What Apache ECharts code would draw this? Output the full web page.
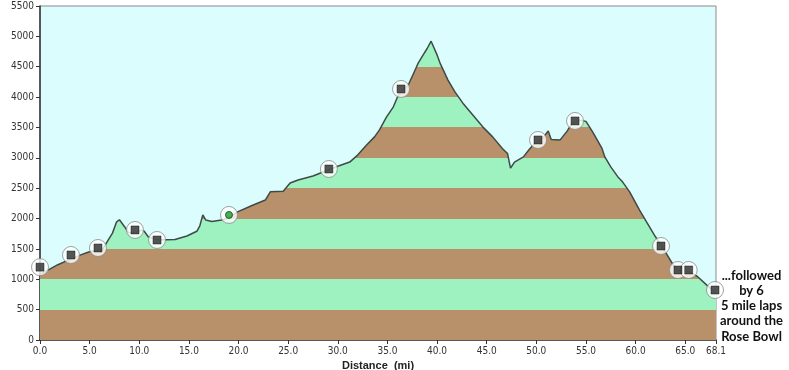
<!DOCTYPE html>
<html>
<head>
<meta charset="utf-8">
<script src="https://cdn.jsdelivr.net/npm/echarts@6/dist/echarts.min.js"></script>
<style>html,body{margin:0;padding:0;background:#fff;}#c{width:789px;height:370px;}</style>
</head>
<body>
<div id="c"></div>
<script>
// ---- data ----
const profileMiles = [0.0,0.8,1.8,2.9,3.9,4.9,5.6,6.3,6.85,7.3,7.7,8.0,8.2,8.5,8.9,9.3,9.8,10.2,10.5,10.9,11.3,12.0,12.8,13.6,14.8,15.8,16.1,16.4,16.5,16.7,17.3,18.3,19.0,19.9,21.3,22.7,23.2,24.5,25.2,26.0,27.5,28.9,30.0,31.2,32.0,32.9,33.7,34.2,34.9,35.6,36.1,36.6,37.1,37.8,38.1,38.6,39.0,39.4,40.0,40.3,41.1,41.8,42.6,43.6,44.6,45.6,46.6,47.1,47.4,47.5,47.8,48.7,49.3,49.8,50.5,51.0,51.2,51.5,52.4,53.1,53.6,54.4,55.0,55.7,56.6,56.9,57.5,58.2,58.7,59.4,60.4,61.1,62.0,62.6,63.3,63.8,64.3,65.3,66.2,67.2,68.1];
const profileFeet = [1080,1150,1240,1320,1390,1450,1475,1490,1640,1760,1940,1980,1970,1870,1770,1760,1780,1810,1790,1700,1680,1650,1650,1655,1713,1790,1880,2060,2090,1975,1950,1975,2010,2110,2210,2305,2440,2450,2585,2635,2700,2790,2860,2930,3045,3210,3345,3460,3670,3840,4035,4120,4200,4450,4560,4695,4800,4920,4695,4560,4280,4085,3900,3705,3510,3345,3150,3070,2830,2800,2930,3015,3140,3230,3300,3400,3440,3300,3295,3440,3570,3620,3600,3420,3160,3015,2850,2690,2600,2440,2140,1945,1700,1560,1370,1235,1150,1130,1050,900,770];
const markerMiles = [0.0,3.12,5.84,9.57,11.79,29.1,36.37,50.17,53.9,62.56,64.27,65.35,68.0];
const markerFeet  = [1200,1400,1515,1812,1647,2816,4134,3294,3607,1548,1153,1153,823];
const greenMiles = [19.04];
const greenFeet  = [2059];
const bandEdges = [0,500,1000,1500,2000,2500,3000,3500,4000,4500,5000,5500];
const noteLines = ['...followed','by 6','5 mile laps','around the','Rose Bowl'];

const BROWN = '#b8916a', GREEN = '#9ef2c0';
const profile = profileMiles.map((m,i)=>[m, profileFeet[i]]);
const markers = markerMiles.map((m,i)=>[m, markerFeet[i]]);
const greens = greenMiles.map((m,i)=>[m, greenFeet[i]]);
const pieces = [];
for (let i=0;i<bandEdges.length-1;i++){
  pieces.push({gte: bandEdges[i], lt: bandEdges[i+1], color: i%2===0 ? BROWN : GREEN});
}
const LABEL_FONT = '"DejaVu Sans Condensed", "Liberation Sans Narrow", sans-serif';

const chart = echarts.init(document.getElementById('c'), null, {renderer:'canvas'});
chart.setOption({
  animation:false,
  backgroundColor:'#ffffff',
  textStyle:{fontFamily:'Liberation Sans, Arial, sans-serif'},
  grid:{left:40,right:73,top:6,bottom:30,outerBoundsMode:'none',containLabel:false,show:true,backgroundColor:'#dcfdfd',borderColor:'#8a8a8a',borderWidth:1},
  xAxis:{
    type:'value',min:0,max:68.1,interval:5,
    name:'Distance  (mi)',nameLocation:'middle',nameGap:17,
    nameTextStyle:{fontWeight:'bold',fontSize:11,color:'#222'},
    axisLine:{show:true,lineStyle:{color:'#333',width:1.5}},
    axisTick:{show:true,length:4,lineStyle:{color:'#333'}},
    axisLabel:{fontSize:10,color:'#333',margin:6,showMaxLabel:true,hideOverlap:false,fontFamily:LABEL_FONT,formatter:v=>Number(v).toFixed(1)},
    splitLine:{show:false}
  },
  yAxis:{
    type:'value',min:0,max:5500,interval:500,
    name:'Elevation (ft)',nameLocation:'middle',nameGap:30,
    nameTextStyle:{fontWeight:'bold',fontSize:11,color:'#222'},
    axisLine:{show:true,lineStyle:{color:'#333',width:1.5}},
    axisTick:{show:true,length:4,lineStyle:{color:'#333'}},
    axisLabel:{fontSize:10,color:'#333',margin:6,fontFamily:LABEL_FONT,formatter:v=>String(v)},
    splitLine:{show:false}
  },
  visualMap:{show:false,type:'piecewise',dimension:1,seriesIndex:0,pieces:pieces},
  series:[
    {type:'line',data:profile,symbol:'none',lineStyle:{width:0},areaStyle:{opacity:1},z:2},
    {type:'line',data:profile,symbol:'none',lineStyle:{width:1.5,color:'#3e4a48'},itemStyle:{color:'#3e4a48'},z:3},
    {type:'scatter',data:markers,symbol:'circle',symbolSize:17,itemStyle:{color:'#ffffff',borderColor:'#8a8a8a',borderWidth:1},z:4},
    {type:'scatter',data:markers,symbol:'rect',symbolSize:8,itemStyle:{color:'#2a2a2a',borderColor:'#000',borderWidth:0.5},z:5},
    {type:'scatter',data:greens,symbol:'circle',symbolSize:17,itemStyle:{color:'#ffffff',borderColor:'#8a8a8a',borderWidth:1},z:4},
    {type:'scatter',data:greens,symbol:'circle',symbolSize:7,itemStyle:{color:'#1f9a2a',borderColor:'#0b4a10',borderWidth:1},z:5}
  ],
  graphic:[{
    type:'text',left:720,top:268,
    style:{text:noteLines.join('\n'),fill:'#111',font:'bold 13px Lato, "Liberation Sans", sans-serif',textAlign:'center',lineHeight:15.2,x:30}
  }]
});
</script>
</body>
</html>
